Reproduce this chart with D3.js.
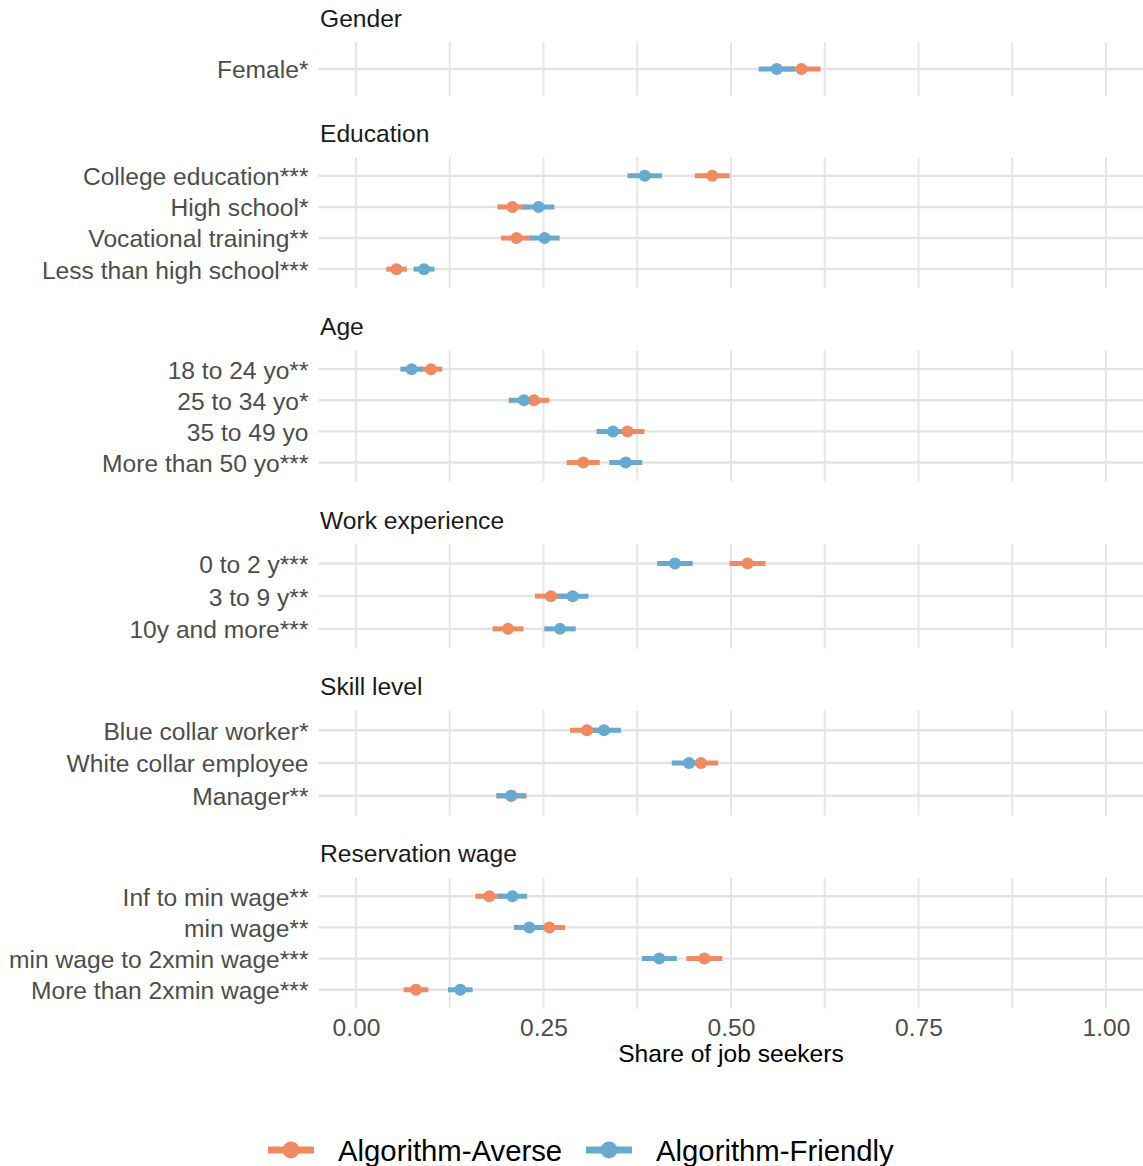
<!DOCTYPE html>
<html>
<head>
<meta charset="utf-8">
<script src="https://cdn.jsdelivr.net/npm/d3@7"></script>
<style>
  html, body { margin: 0; padding: 0; background: #ffffff; }
  svg { display: block; }
  text { font-family: "Liberation Sans", Arial, Helvetica, sans-serif; }
</style>
</head>
<body>
<svg id="chart" width="1143" height="1166"></svg>
<script>
// ---------------- DATA ----------------
const groups = ["Gender", "Education", "Age", "Work experience", "Skill level", "Reservation wage"];

const categories = [
  "Female*",
  "College education***", "High school*", "Vocational training**", "Less than high school***",
  "18 to 24 yo**", "25 to 34 yo*", "35 to 49 yo", "More than 50 yo***",
  "0 to 2 y***", "3 to 9 y**", "10y and more***",
  "Blue collar worker*", "White collar employee", "Manager**",
  "Inf to min wage**", "min wage**", "min wage to 2xmin wage***", "More than 2xmin wage***"
];

const categoryGroup = [
  "Gender",
  "Education", "Education", "Education", "Education",
  "Age", "Age", "Age", "Age",
  "Work experience", "Work experience", "Work experience",
  "Skill level", "Skill level", "Skill level",
  "Reservation wage", "Reservation wage", "Reservation wage", "Reservation wage"
];

const series = ["Algorithm-Averse", "Algorithm-Friendly"];

// Algorithm-Averse: share and 95% CI half-width
const averseShare = [
  0.594,
  0.475, 0.2085, 0.214, 0.054,
  0.100, 0.2373, 0.362, 0.303,
  0.522, 0.260, 0.2027,
  0.308, 0.460, 0.2075,
  0.1778, 0.2578, 0.4645, 0.080
];
const averseCI = [
  0.0253,
  0.0233, 0.020, 0.0205, 0.0137,
  0.015, 0.0205, 0.0227, 0.022,
  0.024, 0.0213, 0.0207,
  0.0227, 0.023, 0.020,
  0.0187, 0.021, 0.024, 0.0164
];

// Algorithm-Friendly: share and 95% CI half-width
const friendlyShare = [
  0.561,
  0.385, 0.2435, 0.2515, 0.0907,
  0.0742, 0.224, 0.3427, 0.3596,
  0.4253, 0.2889, 0.272,
  0.3307, 0.444, 0.2067,
  0.2085, 0.2311, 0.4044, 0.1391
];
const friendlyCI = [
  0.024,
  0.023, 0.021, 0.020, 0.014,
  0.015, 0.0205, 0.022, 0.022,
  0.0237, 0.021, 0.021,
  0.0227, 0.023, 0.0195,
  0.0196, 0.0205, 0.0233, 0.0164
];

const xTicks = [0, 0.25, 0.5, 0.75, 1];
const xTickLabels = ["0.00", "0.25", "0.50", "0.75", "1.00"];
const xMinorTicks = [0.125, 0.375, 0.625, 0.875];
const xTitle = "Share of job seekers";

// ---------------- LAYOUT / STYLE ----------------
const panelLeft = 318.5, panelRight = 1143.5;
const panelTop    = [42.2, 157.2, 350.5, 543.8, 710.5, 877.5];
const panelBottom = [95.8, 287.8, 481.2, 648.5, 815.5, 1008.5];
const colors = { "Algorithm-Averse": "#EF8A62", "Algorithm-Friendly": "#67A9CF" };
const fs = 24.6;
const legendFs = 29.3;
const gridColor = "#e6e6e6";

const svg = d3.select("#chart");

const x = d3.scaleLinear().domain([-0.05, 1.05]).range([panelLeft, panelRight]);
const color = d3.scaleOrdinal().domain(series).range(series.map(s => colors[s]));

const rows = categories.map((c, i) => ({
  cat: c, group: categoryGroup[i],
  vals: [
    { s: series[0], m: averseShare[i], lo: averseShare[i] - averseCI[i], hi: averseShare[i] + averseCI[i] },
    { s: series[1], m: friendlyShare[i], lo: friendlyShare[i] - friendlyCI[i], hi: friendlyShare[i] + friendlyCI[i] }
  ]
}));

const lineLayer = [], pointLayer = [];

groups.forEach((g, gi) => {
  const cats = rows.filter(r => r.group === g).map(r => r.cat);
  const y = d3.scalePoint().domain(cats).range([panelTop[gi], panelBottom[gi]]).padding(0.6);
  const gp = svg.append("g").attr("class", "panel");

  gp.append("text")
    .attr("x", 320)
    .attr("y", panelTop[gi] - 24 + 0.36 * fs)
    .attr("font-size", fs)
    .attr("fill", "#1a1a1a")
    .text(g);

  gp.selectAll("line.v").data(xTicks.concat(xMinorTicks)).join("line")
    .attr("x1", d => x(d)).attr("x2", d => x(d))
    .attr("y1", panelTop[gi]).attr("y2", panelBottom[gi])
    .attr("stroke", gridColor).attr("stroke-width", 2);

  gp.selectAll("line.h").data(cats).join("line")
    .attr("x1", panelLeft).attr("x2", panelRight)
    .attr("y1", d => y(d)).attr("y2", d => y(d))
    .attr("stroke", "#e3e3e3").attr("stroke-width", 2.4);

  const yAxis = d3.axisLeft(y).tickSize(0).tickPadding(0);
  const ga = svg.append("g").attr("transform", `translate(308.5,0)`).call(yAxis);
  ga.select(".domain").remove();
  ga.selectAll("text")
    .attr("font-size", fs)
    .attr("fill", "#4d4d4d")
    .attr("font-family", "Liberation Sans, Arial, sans-serif")
    .attr("dy", "0.36em");

  rows.filter(r => r.group === g).forEach(r => {
    r.vals.forEach(v => {
      lineLayer.push({ s: v.s, lo: v.lo, hi: v.hi, y: y(r.cat) });
      pointLayer.push({ s: v.s, m: v.m, y: y(r.cat) });
    });
  });
});

const sortedLines = series.flatMap(s => lineLayer.filter(d => d.s === s));
svg.append("g").selectAll("line").data(sortedLines).join("line")
  .attr("x1", d => x(d.lo)).attr("x2", d => x(d.hi))
  .attr("y1", d => d.y).attr("y2", d => d.y)
  .attr("stroke", d => color(d.s))
  .attr("stroke-width", 5)
  .attr("stroke-linecap", "butt");

const sortedPoints = series.flatMap(s => pointLayer.filter(d => d.s === s));
svg.append("g").selectAll("circle").data(sortedPoints).join("circle")
  .attr("cx", d => x(d.m)).attr("cy", d => d.y)
  .attr("r", 6)
  .attr("fill", d => color(d.s));

const xAxis = d3.axisBottom(x).tickValues(xTicks).tickFormat((d, i) => xTickLabels[i]).tickSize(0).tickPadding(0);
const gx = svg.append("g").attr("transform", `translate(0,${1027 + 0.36 * fs})`).call(xAxis);
gx.select(".domain").remove();
gx.selectAll("text")
  .attr("font-size", fs)
  .attr("fill", "#4d4d4d")
  .attr("font-family", "Liberation Sans, Arial, sans-serif")
  .attr("dy", 0);

svg.append("text")
  .attr("x", (x(0) + x(1)) / 2)
  .attr("y", 1053 + 0.36 * fs)
  .attr("text-anchor", "middle")
  .attr("font-size", fs)
  .attr("fill", "#000000")
  .text(xTitle);

const legendItems = [
  { s: series[0], keyX: 268, textX: 338 },
  { s: series[1], keyX: 586, textX: 656 }
];
const ly = 1150;
const lg = svg.append("g");
legendItems.forEach(it => {
  lg.append("line")
    .attr("x1", it.keyX).attr("x2", it.keyX + 46)
    .attr("y1", ly).attr("y2", ly)
    .attr("stroke", color(it.s)).attr("stroke-width", 7)
    .attr("stroke-linecap", "butt");
  lg.append("circle")
    .attr("cx", it.keyX + 23).attr("cy", ly).attr("r", 8.5)
    .attr("fill", color(it.s));
  lg.append("text")
    .attr("x", it.textX).attr("y", ly + 0.36 * legendFs)
    .attr("font-size", legendFs)
    .attr("fill", "#000000")
    .text(it.s);
});
</script>
</body>
</html>
